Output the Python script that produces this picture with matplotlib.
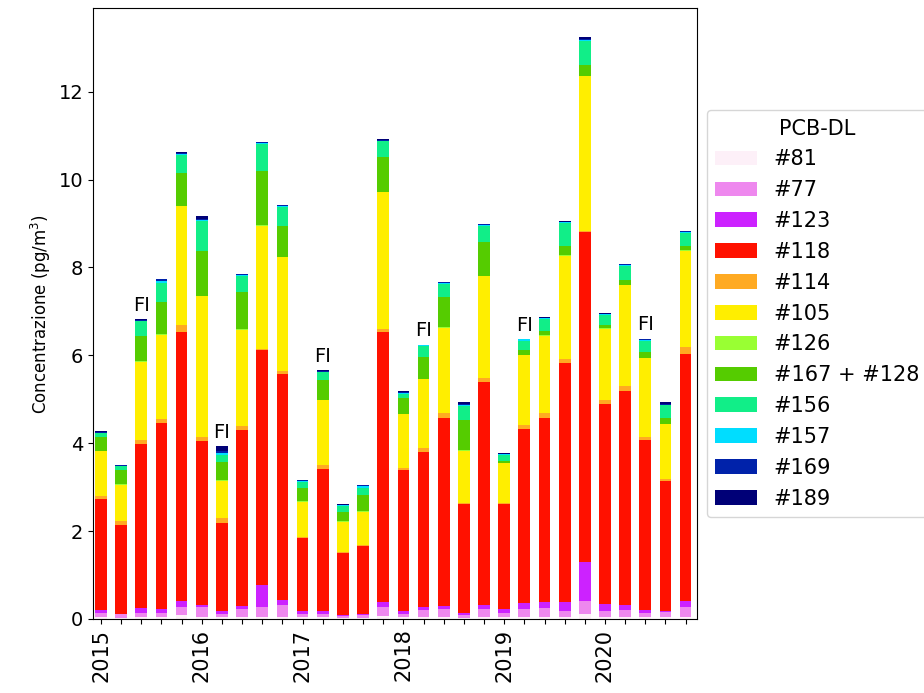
import numpy as np
import matplotlib
matplotlib.use("Agg")
import matplotlib.pyplot as plt

years = ["2015", "2016", "2017", "2018", "2019", "2020"]
n_bars = 30
fi_bars = [2, 6, 11, 16, 21, 27]

congeners = ["#81", "#77", "#123", "#118", "#114", "#105", "#126",
             "#167 + #128", "#156", "#157", "#169", "#189"]
colors = ["#fdf0f8", "#ee88ee", "#cc22ff", "#ff1100", "#ffaa22", "#ffee00",
          "#99ff33", "#55cc00", "#11ee88", "#00ddff", "#0022aa", "#000077"]

# concentrations (pg/m3), one list per congener, 30 samples
pcb81 = [0.04, 0.03, 0.04, 0.04, 0.08, 0.05, 0.05, 0.05, 0.05, 0.05,
         0.04, 0.04, 0.03, 0.03, 0.06, 0.04, 0.04, 0.05, 0.03, 0.05,
         0.04, 0.05, 0.05, 0.04, 0.10, 0.04, 0.05, 0.04, 0.04, 0.05]
pcb77 = [0.10, 0.08, 0.10, 0.10, 0.19, 0.21, 0.07, 0.17, 0.23, 0.27,
         0.08, 0.08, 0.04, 0.06, 0.22, 0.08, 0.16, 0.17, 0.06, 0.17,
         0.10, 0.17, 0.20, 0.15, 0.30, 0.15, 0.16, 0.10, 0.12, 0.22]
pcb123 = [0.06, 0.01, 0.10, 0.08, 0.13, 0.06, 0.06, 0.08, 0.49, 0.11,
          0.06, 0.06, 0.01, 0.03, 0.10, 0.06, 0.06, 0.07, 0.05, 0.10,
          0.08, 0.14, 0.14, 0.19, 0.90, 0.14, 0.10, 0.06, 0.02, 0.13]
pcb118 = [2.53, 2.02, 3.75, 4.24, 6.12, 3.73, 2.01, 4.00, 5.34, 5.15,
          1.65, 3.24, 1.43, 1.54, 6.14, 3.21, 3.54, 4.29, 2.47, 5.07,
          2.39, 3.96, 4.19, 5.45, 7.50, 4.57, 4.88, 3.87, 2.96, 5.64]
pcb114 = [0.07, 0.09, 0.09, 0.08, 0.16, 0.09, 0.10, 0.09, 0.04, 0.06,
          0.03, 0.08, 0.02, 0.03, 0.09, 0.04, 0.08, 0.10, 0.02, 0.10,
          0.03, 0.09, 0.10, 0.09, 0.02, 0.09, 0.11, 0.06, 0.04, 0.14]
pcb105 = [1.02, 0.82, 1.77, 1.93, 2.71, 3.20, 0.85, 2.19, 2.80, 2.59,
          0.81, 1.48, 0.68, 0.75, 3.10, 1.23, 1.57, 1.95, 1.20, 2.31,
          0.90, 1.59, 1.77, 2.35, 3.54, 1.62, 2.29, 1.80, 1.25, 2.20]
pcb126 = [0.01] * 30
pcb167_128 = [0.30, 0.33, 0.59, 0.73, 0.74, 1.02, 0.43, 0.85, 1.23, 0.71,
              0.29, 0.44, 0.22, 0.37, 0.79, 0.35, 0.50, 0.69, 0.68, 0.77,
              0.04, 0.10, 0.09, 0.20, 0.23, 0.06, 0.12, 0.14, 0.14, 0.10]
pcb156 = [0.09, 0.08, 0.32, 0.44, 0.41, 0.68, 0.15, 0.36, 0.61, 0.43,
          0.14, 0.18, 0.13, 0.17, 0.36, 0.11, 0.25, 0.30, 0.32, 0.36,
          0.14, 0.22, 0.27, 0.53, 0.56, 0.23, 0.31, 0.25, 0.28, 0.29]
pcb157 = [0.02, 0.02, 0.02, 0.04, 0.03, 0.03, 0.05, 0.03, 0.03, 0.02,
          0.02, 0.02, 0.02, 0.03, 0.02, 0.02, 0.03, 0.02, 0.02, 0.02,
          0.02, 0.03, 0.03, 0.02, 0.02, 0.02, 0.02, 0.02, 0.02, 0.02]
pcb169 = [0.02, 0.02, 0.02, 0.04, 0.03, 0.03, 0.05, 0.02, 0.02, 0.02,
          0.02, 0.02, 0.01, 0.02, 0.02, 0.02, 0.00, 0.02, 0.03, 0.02,
          0.01, 0.00, 0.01, 0.01, 0.03, 0.02, 0.02, 0.02, 0.02, 0.02]
pcb189 = [0.01, 0.00, 0.01, 0.01, 0.01, 0.06, 0.10, 0.01, 0.01, 0.01,
          0.01, 0.01, 0.01, 0.01, 0.01, 0.02, 0.00, 0.01, 0.05, 0.01,
          0.01, 0.00, 0.01, 0.01, 0.04, 0.01, 0.01, 0.01, 0.04, 0.01]

series = [pcb81, pcb77, pcb123, pcb118, pcb114, pcb105, pcb126,
          pcb167_128, pcb156, pcb157, pcb169, pcb189]

x = np.arange(n_bars)

fig, ax = plt.subplots(figsize=(9.24, 6.93), dpi=100)
fig.subplots_adjust(left=0.1006, right=0.754, bottom=0.107, top=0.988)

bottom = np.zeros(n_bars)
for vals, name, col in zip(series, congeners, colors):
    vals = np.array(vals)
    ax.bar(x, vals, width=0.58, bottom=bottom, color=col, label=name)
    bottom += vals

for i in fi_bars:
    ax.text(x[i], bottom[i] + 0.1, "FI", ha="center", va="bottom", fontsize=14)

ax.set_xticks(x)
labels = [""] * n_bars
for k, yr in enumerate(years):
    labels[k * 5] = yr
ax.set_xticklabels(labels, rotation=90, fontsize=15)
ax.set_xlim(-0.4, 29.55)
ax.set_ylim(0, 13.9)
ax.set_yticks([0, 2, 4, 6, 8, 10, 12])
ax.tick_params(axis="y", labelsize=14)
ax.set_ylabel("Concentrazione (pg/m$^3$)", fontsize=12)

ax.legend(title="PCB-DL", loc="center left", bbox_to_anchor=(1.0, 0.5),
          fontsize=15, title_fontsize=15, labelspacing=0.52)

plt.savefig("out.png")
